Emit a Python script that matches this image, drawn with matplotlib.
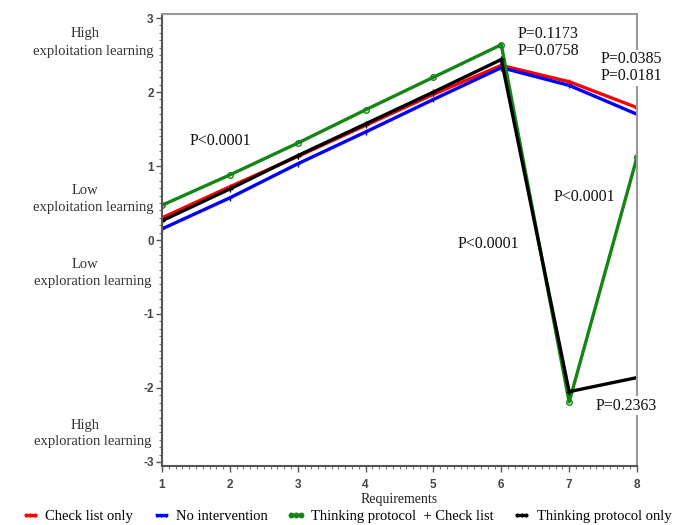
import numpy as np
import matplotlib
matplotlib.use('Agg')
import matplotlib.pyplot as plt
from matplotlib.ticker import MultipleLocator

plt.rcParams['axes.unicode_minus'] = False

requirements = [1, 2, 3, 4, 5, 6, 7, 8]

check_list = [0.30, 0.72, 1.13, 1.55, 1.97, 2.36, 2.14, 1.79]
no_interv = [0.15, 0.57, 1.03, 1.46, 1.90, 2.33, 2.09, 1.70]
think_check = [0.47, 0.88, 1.31, 1.76, 2.20, 2.64, -2.19, 1.12]
think_only = [0.26, 0.69, 1.14, 1.57, 2.00, 2.44, -2.05, -1.86]

series = [
    ('Check list only', check_list, '#ff0000', '+'),
    ('No intervention', no_interv, '#0000ff', '1'),
    ('Thinking protocol  + Check list', think_check, '#158515', 'o'),
    ('Thinking protocol only', think_only, '#000000', '+'),
]

# p-value annotations: (text, x, y, white box)
p_notes = [
    ('P<0.0001', 1.40, 1.34, False),
    ('P=0.1173\nP=0.0758', 6.24, 2.67, False),
    ('P=0.0385\nP=0.0181', 7.46, 2.33, True),
    ('P<0.0001', 6.77, 0.58, False),
    ('P<0.0001', 5.36, -0.05, False),
    ('P=0.2363', 7.39, -2.24, True),
]

# side labels: (top line, bottom line, fig y of top line)
side_labels = [
    ('High', 'exploitation learning', 34),
    ('Low', 'exploitation learning', 190),
    ('Low', 'exploration learning', 265),
    ('High', 'exploration learning', 425),
]

serif = ['Liberation Serif', 'DejaVu Serif']

fig = plt.figure(figsize=(6.75, 5.25), dpi=100)
ax = fig.add_axes([162/675, 1-466/525, (637-162)/675, (466-14)/525])

for name, vals, col, mk in series:
    ax.plot(requirements, vals, color=col, lw=2.4, marker=mk, ms=4,
            mew=1, mfc='none', label=name)

ax.set_xlim(1, 8)
ax.set_ylim(-3.055, 3.055)
ax.xaxis.set_major_locator(MultipleLocator(1))
ax.xaxis.set_minor_locator(MultipleLocator(0.1))
ax.yaxis.set_major_locator(MultipleLocator(1))
ax.yaxis.set_minor_locator(MultipleLocator(0.1))
ax.tick_params(which='major', length=4, width=1, color='#555555',
               labelsize=8.5, labelcolor='#444444', pad=2)
ax.tick_params(axis='x', which='major', pad=5)
ax.tick_params(which='minor', length=2, width=0.8, color='#777777')
for lab in ax.get_xticklabels() + ax.get_yticklabels():
    lab.set_fontweight('bold')
    lab.set_family(['Liberation Sans', 'DejaVu Sans'])

for s in ['left', 'bottom']:
    ax.spines[s].set_color('#555555')
    ax.spines[s].set_linewidth(1.5)
for s in ['top', 'right']:
    ax.spines[s].set_color('#999999')
    ax.spines[s].set_linewidth(1.5)

ax.set_xlabel('Requirements', family=serif, fontsize=10, color='#222222', labelpad=2)

for txt, x, y, box in p_notes:
    kw = {}
    if box:
        kw['bbox'] = dict(facecolor='white', edgecolor='none', pad=1)
    ax.text(x, y, txt, family=serif, fontsize=11.5, color='#111111',
            ha='left', va='center', linespacing=1.1, zorder=5, **kw)

for top, bottom, py in side_labels:
    fig.text(85/675, 1-py/525, top, family=serif, fontsize=10.5,
             color='#333333', ha='center', va='center')
    fig.text(93/675, 1-(py+17)/525, bottom, family=serif, fontsize=10.5,
             color='#333333', ha='center', va='center')

fig.legend(loc='center', bbox_to_anchor=(0.513, 0.017), ncol=4,
           frameon=False, prop={'family': serif, 'size': 10.5},
           handlelength=1.25, handletextpad=0.4, columnspacing=1.3,
           borderpad=0, borderaxespad=0,
           numpoints=3, markerscale=0.8)

fig.savefig('out.png', dpi=100)
